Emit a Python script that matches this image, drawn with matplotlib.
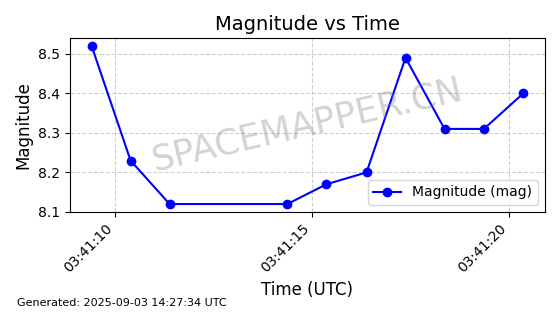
import numpy as np
import pandas as pd
import matplotlib
matplotlib.use("Agg")
import matplotlib.pyplot as plt
import matplotlib.dates as mdates

# observation times (UTC) and magnitudes
times = pd.to_datetime([
    "2025-09-03 03:41:09.400", "2025-09-03 03:41:10.390", "2025-09-03 03:41:11.380",
    "2025-09-03 03:41:14.370", "2025-09-03 03:41:15.360", "2025-09-03 03:41:16.380",
    "2025-09-03 03:41:17.370", "2025-09-03 03:41:18.360", "2025-09-03 03:41:19.360",
    "2025-09-03 03:41:20.360",
])
mags = [8.52, 8.23, 8.12, 8.12, 8.17, 8.20, 8.49, 8.31, 8.31, 8.40]

fig, ax = plt.subplots(figsize=(5.6, 3.14), dpi=100)
fig.subplots_adjust(left=0.125, right=0.973, top=0.879, bottom=0.325)

ax.plot(times, mags, 'b-o', lw=1.5, ms=6, label="Magnitude (mag)")
ax.set_title("Magnitude vs Time", fontsize=14)
ax.set_xlabel("Time (UTC)", fontsize=12)
ax.set_ylabel("Magnitude", fontsize=12)
ax.grid(True, linestyle='--', alpha=0.6)
ax.legend(loc='lower right', fontsize=10)

ax.xaxis.set_major_locator(mdates.SecondLocator(bysecond=range(0, 60, 5)))
ax.xaxis.set_major_formatter(mdates.DateFormatter('%H:%M:%S'))
plt.setp(ax.get_xticklabels(), rotation=45, ha='right')

ax.text(0.5, 0.5, "SPACEMAPPER.CN", transform=ax.transAxes, fontsize=25.5,
        color='gray', alpha=0.35, rotation=13, ha='center', va='center')

fig.text(0.03, 0.025, "Generated: 2025-09-03 14:27:34 UTC", fontsize=8)

fig.savefig("out.png")
